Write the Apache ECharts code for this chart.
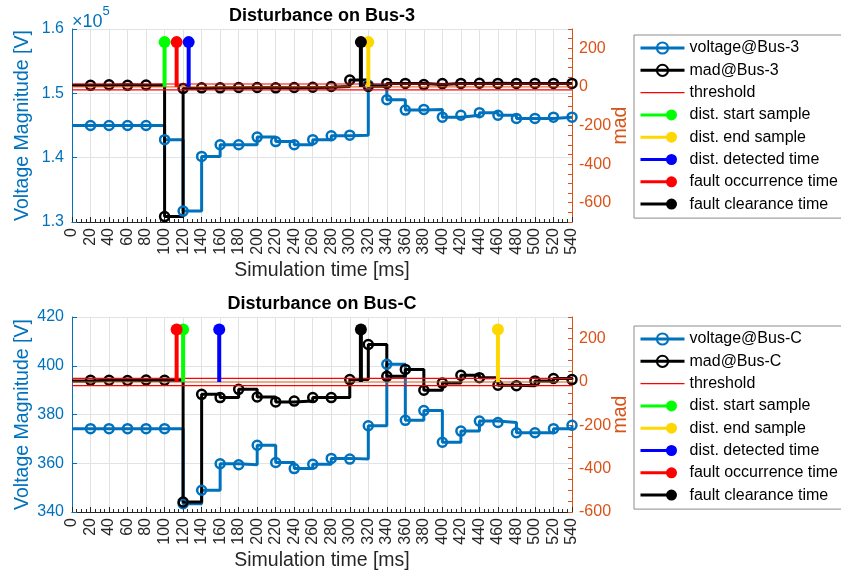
<!DOCTYPE html>
<html>
<head>
<meta charset="utf-8">
<script src="https://cdn.jsdelivr.net/npm/echarts@6/dist/echarts.min.js"></script>
<style>
  html, body { margin: 0; padding: 0; background: #fff; }
  #chart { width: 841px; height: 575px; }
</style>
</head>
<body>
<div id="chart"></div>
<script>
// sample times [ms]
const timeMs = [0, 20, 40, 60, 80, 100, 120, 140, 160, 180, 200, 220, 240, 260,
  280, 300, 320, 340, 360, 380, 400, 420, 440, 460, 480, 500, 520, 540];

// Bus-3 (top panel), voltage in V
const voltageBus3 = [145000, 145000, 145000, 145000, 145000, 142800, 131700, 140200,
  142000, 142000, 143200, 142500, 142000, 142800, 143400, 143500, 151300, 149000,
  147400, 147500, 146300, 146600, 147000, 146600, 146100, 146100, 146300, 146300];
const madBus3 = [8, 8, 11, 8, 10, -672, -8, -5, -5, -3, -3, -5, -3, -2,
  2, 36, 3, 18, 18, 12, 17, 18, 19, 18, 18, 18, 18, 18];
const thresholdBus3 = [15, -15];
// start, end, detected, occurrence, clearance
const eventsBus3 = [100, 320, 126, 113, 312];
const stemBus3 = 232;

// Bus-C (bottom panel), voltage in V
const voltageBusC = [374.2, 374.2, 374.2, 374.2, 374.2, 374.2, 343.4, 348.9,
  359.8, 359.4, 367.4, 360.3, 357.8, 359.6, 362, 361.7, 375.4, 400.6,
  377.6, 381.6, 368.6, 373.2, 377.3, 376.7, 372.5, 372.5, 374.2, 375.6];
const madBusC = [5, 8, 8, 7, 9, 8, -554, -57, -72, -34, -69, -92, -88, -72,
  -72, 11, 173, 26, 58, -38, -5, 31, 20, -15, -17, 5, 16, 11];
const thresholdBusC = [17, -17];
const eventsBusC = [120, 460, 159, 113, 312];
const stemBusC = 242;

const eventNames = ['dist. start sample', 'dist. end sample', 'dist. detected time',
  'fault occurrence time', 'fault clearance time'];
const madTicks = [-600, -400, -200, 0, 200];

const BLUE = '#0072BD';
const ORANGE = '#D95319';
const DARK = '#262626';
const eventColors = ['#00ff00', '#ffd700', '#0000ff', '#ff0000', '#000000'];
const FONT = '"Liberation Sans", Arial, Helvetica, sans-serif';

const stemIcon = 'path://M0,0L0,0M44,14L44,14M0,5.5L31,5.5L31,8.5L0,8.5Z' +
  'M25.5,7A5.5,5.5,0,1,1,36.5,7A5.5,5.5,0,1,1,25.5,7Z';
const thrIcon = 'path://M0,0L0,0M44,14L44,14M0,6.4L44,6.4L44,7.6L0,7.6Z';

function stairs(name, values, color, xi, yi) {
  return {
    name: name, type: 'line', xAxisIndex: xi, yAxisIndex: yi, step: 'end',
    data: timeMs.map((t, i) => i === 0 ? { value: [t, values[i]], symbol: 'none' } : [t, values[i]]),
    symbol: 'circle', symbolSize: 9,
    lineStyle: { color: color, width: 3 },
    itemStyle: { color: 'rgba(255,255,255,0)', borderColor: color, borderWidth: 2.5 },
    z: 2
  };
}

function hline(name, value, color, width, xi, yi) {
  return {
    name: name, type: 'line', xAxisIndex: xi, yAxisIndex: yi,
    data: [[timeMs[0], value], [timeMs[timeMs.length - 1], value]],
    symbol: 'none', lineStyle: { color: color, width: width }, itemStyle: { color: color }, z: 3
  };
}

function stem(name, t, h, color, xi, yi) {
  return {
    name: name, type: 'line', xAxisIndex: xi, yAxisIndex: yi,
    data: [{ value: [t, 0], symbol: 'none' }, [t, h]],
    symbol: 'circle', symbolSize: 12,
    lineStyle: { color: color, width: 4 }, itemStyle: { color: color }, z: 4
  };
}

function panelSeries(bus, volt, mad, thr, events, h, xi, yl, yr) {
  const list = [
    stairs('voltage@' + bus, volt, BLUE, xi, yl),
    stairs('mad@' + bus, mad, '#000000', xi, yr),
    hline('threshold', thr[0], '#ff0000', 1.2, xi, yr),
    hline('threshold', thr[1], '#ff0000', 1.2, xi, yr),
    hline('baseline', 0, ORANGE, 1, xi, yr)
  ];
  events.forEach((t, i) => list.push(stem(eventNames[i], t, h, eventColors[i], xi, yr)));
  return list;
}

function xAxis(gi) {
  return {
    type: 'value', gridIndex: gi, min: 0, max: 540, interval: 20,
    name: 'Simulation time [ms]', nameLocation: 'middle', nameGap: 39, nameMoveOverlap: false,
    nameTextStyle: { fontSize: 19.5, color: DARK },
    axisLine: { show: true, onZero: false, lineStyle: { color: DARK, width: 1 } },
    axisTick: { show: true, inside: true, length: 5, lineStyle: { color: DARK } },
    minorTick: { show: true, splitNumber: 4, length: 3, lineStyle: { color: DARK } },
    axisLabel: { rotate: 90, fontSize: 16, color: DARK, margin: 6 },
    splitLine: { show: true, lineStyle: { color: '#e2e2e2', width: 1 } }
  };
}

function leftAxis(gi, min, max, interval, fmt) {
  return {
    type: 'value', gridIndex: gi, position: 'left', min: min, max: max, interval: interval,
    name: 'Voltage Magnitude [V]', nameLocation: 'middle', nameRotate: 90, nameGap: 39,
    nameMoveOverlap: false,
    nameTextStyle: { fontSize: 19.5, color: BLUE },
    axisLine: { show: true, onZero: false, lineStyle: { color: BLUE, width: 1 } },
    axisTick: { show: true, inside: true, length: 5, lineStyle: { color: BLUE } },
    axisLabel: { fontSize: 16, color: BLUE, margin: 8, formatter: fmt },
    splitLine: { show: true, lineStyle: { color: '#dde4ea', width: 1 } }
  };
}

function rightAxis(gi, min, max) {
  return {
    type: 'value', gridIndex: gi, position: 'right', min: min, max: max, interval: 100,
    name: 'mad', nameLocation: 'middle', nameRotate: 90, nameGap: 39, nameMoveOverlap: false,
    nameTextStyle: { fontSize: 19.5, color: ORANGE },
    axisLine: { show: true, onZero: false, lineStyle: { color: ORANGE, width: 1 } },
    axisTick: { show: true, inside: true, length: 4, lineStyle: { color: ORANGE } },
    minorTick: { show: true, splitNumber: 2, length: 4, lineStyle: { color: ORANGE } },
    axisLabel: { fontSize: 16, color: ORANGE, margin: 7, customValues: madTicks },
    splitLine: { show: false }
  };
}

function legend(bus, top) {
  return {
    orient: 'vertical', left: 634, top: top, padding: [5, 5, 6, 5],
    itemWidth: 44, itemHeight: 14, itemGap: 6.3, selectedMode: false,
    borderColor: '#8c8c8c', borderWidth: 1, backgroundColor: '#ffffff',
    textStyle: { fontSize: 16, color: '#000000' },
    lineStyle: { width: 'inherit' },
    data: [{ name: 'voltage@' + bus }, { name: 'mad@' + bus }, { name: 'threshold', icon: thrIcon }]
      .concat(eventNames.map(n => ({ name: n, icon: stemIcon })))
  };
}

const chart = echarts.init(document.getElementById('chart'));
chart.setOption({
  animation: false,
  backgroundColor: '#ffffff',
  textStyle: { fontFamily: FONT },
  title: [
    { text: 'Disturbance on Bus-3', left: 322, top: 7, padding: 0, textAlign: 'center',
      textStyle: { fontSize: 18, fontWeight: 'bold', color: '#000000' } },
    { text: 'Disturbance on Bus-C', left: 322, top: 295, padding: 0, textAlign: 'center',
      textStyle: { fontSize: 18, fontWeight: 'bold', color: '#000000' } }
  ],
  graphic: [{
    type: 'text', left: 72, top: 5,
    style: {
      text: '{a|×10}{b|5}',
      rich: {
        a: { fontSize: 18, fill: BLUE, fontFamily: FONT, padding: [8, 0, 0, 0] },
        b: { fontSize: 13, fill: BLUE, fontFamily: FONT, verticalAlign: 'top' }
      }
    }
  }],
  legend: [legend('Bus-3', 35), legend('Bus-C', 326)],
  grid: [
    { left: 72, top: 29, width: 500, height: 193, outerBoundsMode: 'none' },
    { left: 72, top: 317, width: 500, height: 195, outerBoundsMode: 'none' }
  ],
  xAxis: [xAxis(0), xAxis(1)],
  yAxis: [
    leftAxis(0, 130000, 160000, 10000, v => (v / 1e5).toFixed(1)),
    rightAxis(0, -700, 300),
    leftAxis(1, 340, 420, 20, v => String(v)),
    rightAxis(1, -600, 300)
  ],
  series: panelSeries('Bus-3', voltageBus3, madBus3, thresholdBus3, eventsBus3, stemBus3, 0, 0, 1)
    .concat(panelSeries('Bus-C', voltageBusC, madBusC, thresholdBusC, eventsBusC, stemBusC, 1, 2, 3))
});
</script>
</body>
</html>
